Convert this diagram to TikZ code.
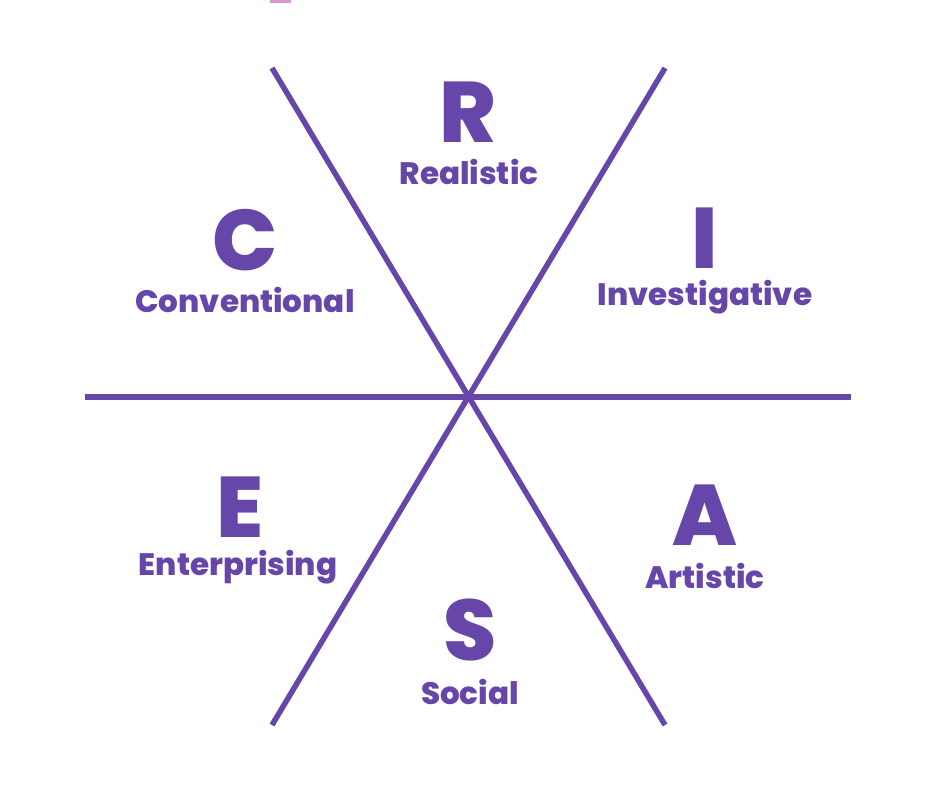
\documentclass[tikz,border=0pt]{standalone}
\usepackage{fontspec}
\setmainfont{Poppins}[BoldFont=Poppins ExtraBold]
\usepackage{xcolor}
\definecolor{riasecpurple}{RGB}{103,70,170}
\definecolor{riasecpink}{RGB}{214,150,220}

\begin{document}
\begin{tikzpicture}[
  x=1pt, y=-1pt,
  letter/.style={text=riasecpurple, font=\fontsize{86}{86}\selectfont\bfseries, inner sep=0pt},
  word/.style={text=riasecpurple, font=\fontsize{31}{31}\selectfont\bfseries, inner sep=0pt},
  spoke/.style={draw=riasecpurple, line width=5.5pt},
]
\useasboundingbox (0,0) rectangle (936,791);

% small mark at the top
\fill[riasecpink] (270,0) rectangle (291,3);

% centre and spoke ends
\coordinate (hub) at (468,397);
\coordinate (west) at (85,397);
\coordinate (east) at (851,397);
\coordinate (nw) at (272,68);
\coordinate (se) at (665,725);
\coordinate (ne) at (665,68);
\coordinate (sw) at (272,725);

\draw[spoke] (west) -- (east);
\draw[spoke] (nw) -- (se);
\draw[spoke] (ne) -- (sw);

% the six types
\node[letter] (r) at (468,112) {R};
\node[word]   (realistic) at (469,172) {Realistic};
\node[letter] (i) at (705,238) {I};
\node[word]   (investigative) at (705,297) {Investigative};
\node[letter] (a) at (705,515) {A};
\node[word]   (artistic) at (705,576) {Artistic};
\node[letter] (s) at (470,630) {S};
\node[word]   (social) at (470,692) {Social};
\node[letter] (e) at (240,507) {E};
\node[word]   (enterprising) at (238,567) {Enterprising};
\node[letter] (c) at (245,240) {C};
\node[word]   (conventional) at (245,300) {Conventional};

\end{tikzpicture}
\end{document}
